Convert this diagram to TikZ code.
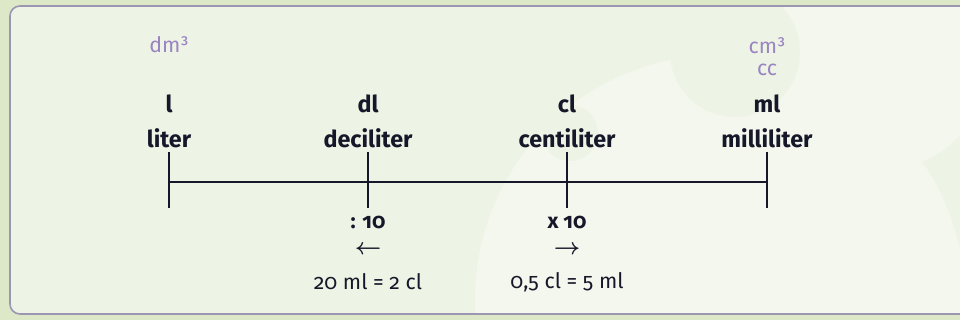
\documentclass[tikz,border=0pt]{standalone}
\usepackage{fontspec}
\setmainfont{Fira Sans}[Numbers=OldStyle]
\usetikzlibrary{positioning}

\definecolor{outergreen}{HTML}{DCE8C8}
\definecolor{panelgreen}{HTML}{EEF4E5}
\definecolor{panellight}{HTML}{F3F7ED}
\definecolor{panelline}{HTML}{9C96B2}
\definecolor{unitpurple}{HTML}{9A84C2}
\definecolor{inkblack}{HTML}{16182A}

\begin{document}
\begin{tikzpicture}[
    x=0.75pt, y=-0.75pt,
    every node/.style={inner sep=0pt, align=center},
    unitabbr/.style={font=\fontsize{17.5}{20}\selectfont\bfseries, text=inkblack},
    unitname/.style={font=\fontsize{17.5}{20}\selectfont\bfseries, text=inkblack},
    altname/.style={font=\fontsize{16}{18}\selectfont, text=unitpurple},
    factor/.style={font=\fontsize{16}{18}\selectfont\bfseries\boldmath, text=inkblack},
    example/.style={font=\fontsize{16}{18}\selectfont, text=inkblack},
    scaleline/.style={draw=inkblack, line width=1.4pt},
    panel/.style={rounded corners=7.5pt}
]
\useasboundingbox (0,0) rectangle (960,320);

% Background and panel
\fill[outergreen] (0,0) rectangle (960,320);
\fill[panelgreen, panel] (10,6) rectangle (980,314);

% Faint decoration
\begin{scope}
  \clip[panel] (10,6) rectangle (980,314);
  \fill[panellight] (720,300) circle (245);
  \fill[panellight] (880,60) circle (110);
  \fill[panelgreen] (735,52) circle (65);
  \fill[panelgreen] (570,133) circle (28);
\end{scope}
\draw[panelline, line width=1.2pt, panel] (10,6) rectangle (980,314);

% Scale positions
\coordinate (pl) at (169,182);
\coordinate (pdl) at (368,182);
\coordinate (pcl) at (567,182);
\coordinate (pml) at (767,182);

% Units
\node (abbrl)  [unitabbr] at (169,104) {l};
\node (abbrdl) [unitabbr] at (368,104) {dl};
\node (abbrcl) [unitabbr] at (567,104) {cl};
\node (abbrml) [unitabbr] at (767,104) {ml};
\node (namel)  [unitname] at (169,138) {liter};
\node (namedl) [unitname] at (368,138) {deciliter};
\node (namecl) [unitname] at (567,138) {centiliter};
\node (nameml) [unitname] at (767,138) {milliliter};
\node (altl)   [altname] at (169,45) {dm³};
\node (altml)  [altname] at (767,46) {cm³};
\node (altcc)  [altname] at (767,70) {cc};

% Scale
\draw [scaleline] (pl) -- (pml);
\foreach \p in {pl, pdl, pcl, pml}
  \draw [scaleline] ([yshift=22.5pt]\p) -- ([yshift=-19.5pt]\p);

% Conversions
\node (divten)  [factor] at (368,222) {: 10};
\node (mulften) [factor] at (567,222) {x 10};
\node (leftarr)  [factor] at (368,250) {$\leftarrow$};
\node (rightarr) [factor] at (567,250) {$\rightarrow$};
\node (exdl) [example] at (368,282) {20 ml = 2 cl};
\node (excl) [example] at (567,282) {0,5 cl = 5 ml};

\end{tikzpicture}
\end{document}
